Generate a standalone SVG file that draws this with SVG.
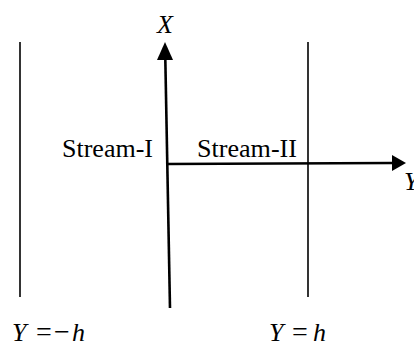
<svg xmlns="http://www.w3.org/2000/svg" width="414" height="347" viewBox="0 0 414 347">
<style>
.t{font-family:'Liberation Serif','Times New Roman',serif;font-size:26px;fill:#000}
.i{font-style:italic}
.op{font-size:28px}
.wall{stroke:#000;stroke-width:1.6;fill:none}
.axis{stroke:#000;stroke-width:2.6;fill:none}
</style>
<rect width="414" height="347" fill="#fff"/>
<g id="walls">
<line class="wall" x1="20" y1="42" x2="20" y2="297"/>
<line class="wall" x1="308" y1="42" x2="308" y2="297"/>
</g>
<g id="connectors">
<line class="axis" x1="170" y1="308" x2="165.3" y2="58"/>
<polygon points="165,42 157,60 173,60" fill="#000"/>
<line class="axis" x1="166" y1="164" x2="393" y2="163"/>
<polygon points="406,163 392,155 392,171" fill="#000"/>
</g>
<g id="labels">
<text class="t" x="62" y="157" textLength="91" lengthAdjust="spacingAndGlyphs">Stream-I</text>
<text class="t" x="197" y="157" textLength="100" lengthAdjust="spacingAndGlyphs">Stream-II</text>
<text class="t i" x="157" y="33">X</text>
<text class="t i" x="404" y="190">Y</text>
<text class="t" y="341"><tspan class="i" x="12">Y</tspan><tspan class="op" x="36">=</tspan><tspan class="op" x="54">−</tspan><tspan class="i" x="72">h</tspan></text>
<text class="t" y="341"><tspan class="i" x="269">Y</tspan><tspan class="op" x="292">=</tspan><tspan class="i" x="313">h</tspan></text>
</g>
</svg>
